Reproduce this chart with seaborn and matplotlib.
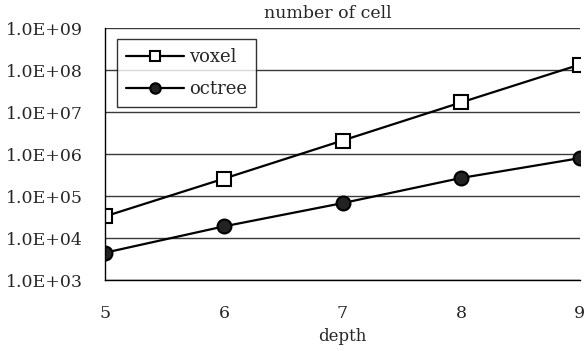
import pandas as pd
import seaborn as sns
import matplotlib.pyplot as plt

# データ
depth = [5, 6, 7, 8, 9]
voxel = [3.3e4, 2.6e5, 2.1e6, 1.7e7, 1.35e8]
octree = [4.5e3, 1.9e4, 6.8e4, 2.7e5, 8.0e5]
ytick_labels = ["1.0E+03", "1.0E+04", "1.0E+05", "1.0E+06",
                "1.0E+07", "1.0E+08", "1.0E+09"]

df = pd.DataFrame({"depth": depth * 2,
                   "cells": voxel + octree,
                   "kind": ["voxel"] * 5 + ["octree"] * 5})

sns.set_style("white")
plt.rcParams['font.family'] = ['DejaVu Serif']

fig = plt.figure(figsize=(5.88, 3.51), dpi=100)
ax = fig.add_axes([0.179, 0.202, 0.807, 0.718])

sns.lineplot(data=df, x="depth", y="cells", hue="kind", style="kind",
             markers={"voxel": "s", "octree": "o"}, dashes=False,
             palette={"voxel": "black", "octree": "black"},
             linewidth=1.6, markersize=10, ax=ax, legend=False)
for line, face in zip(ax.get_lines(), ["white", "#222222"]):
    line.set_markerfacecolor(face)
    line.set_markeredgecolor("black")
    line.set_markeredgewidth(1.5)
    line.set_label("voxel" if face == "white" else "octree")

ax.set_yscale("log")
ax.set_ylim(1e3, 1e9)
ax.set_xlim(5, 9)
ax.set_yticks([10.0 ** k for k in range(3, 10)])
ax.set_yticklabels(ytick_labels, fontsize=12.5)
ax.minorticks_off()
ax.set_xticks(depth)
ax.set_xticklabels([str(d) for d in depth], fontsize=12.5)
ax.tick_params(axis="x", direction="in", length=4, width=1, color="black", pad=18)
ax.tick_params(axis="y", length=0, pad=16)

ax.grid(axis="y", color="#3a3a3a", linewidth=1)
for s in ["top", "right"]:
    ax.spines[s].set_visible(False)
for s in ["left", "bottom"]:
    ax.spines[s].set_color("black")
    ax.spines[s].set_linewidth(1)

ax.set_xlabel("depth", fontsize=12, labelpad=4)
ax.set_ylabel("")
ax.set_title("number of cell", fontsize=12.5, pad=7, x=0.47)

leg = ax.legend(loc="upper left", fontsize=13, frameon=True, fancybox=False,
                edgecolor="black", handlelength=3.2, borderpad=0.5,
                labelspacing=0.75, handletextpad=0.3, markerscale=0.75,
                borderaxespad=0, bbox_to_anchor=(0.025, 0.955))
leg.get_frame().set_linewidth(1)

fig.savefig("out.png", dpi=100)
plt.close()
